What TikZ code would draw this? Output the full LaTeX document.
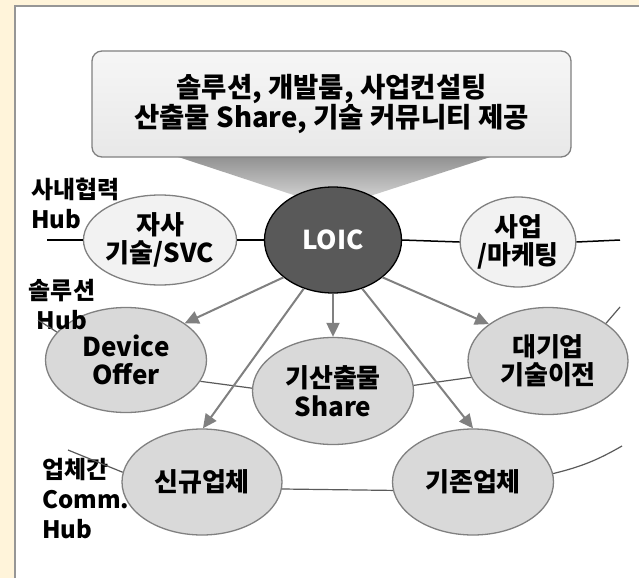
\documentclass[tikz,border=0pt]{standalone}
\usepackage{fontspec}
\setmainfont{Noto Sans CJK KR}
\usetikzlibrary{shapes.geometric,arrows.meta}
\definecolor{cream}{RGB}{255,244,218}
\definecolor{framegray}{RGB}{150,150,150}
\definecolor{edgegray}{RGB}{128,128,128}
\definecolor{linkgray}{RGB}{90,90,90}
\definecolor{corefill}{RGB}{89,89,89}
\definecolor{palefill}{RGB}{242,242,242}
\definecolor{midfill}{RGB}{217,217,217}
\definecolor{boxtop}{RGB}{246,246,246}
\definecolor{boxbot}{RGB}{232,232,232}
\definecolor{wedgetop}{RGB}{135,135,135}
\definecolor{wedgebot}{RGB}{225,225,225}
\tikzset{
 ell/.style={ellipse, inner sep=0pt, line width=1.3pt, draw=edgegray, align=center,
   font=\bfseries\fontsize{26}{28.5}\selectfont},
 pale/.style={ell, fill=palefill},
 mid/.style={ell, fill=midfill},
 core/.style={ell, fill=corefill, draw=black, text=white},
 arr/.style={draw=edgegray, line width=2pt, -{Triangle[length=14pt,width=13pt]}},
 link/.style={draw=linkgray, line width=1.2pt},
 axisline/.style={draw=black, line width=1.5pt},
 lbl/.style={font=\bfseries\fontsize{24}{30}\selectfont, inner sep=0pt},
 callout/.style={rounded corners=10pt, draw=edgegray, line width=1.3pt,
   top color=boxtop, bottom color=boxbot, align=center,
   font=\bfseries\fontsize{27.5}{30.5}\selectfont}
}
\begin{document}
\begin{tikzpicture}[x=1pt,y=-1pt]
\useasboundingbox (0,0) rectangle (639,578);
\fill[cream] (0,0) rectangle (639,578);
\fill[white] (15,6) rectangle (639,578);
\draw[framegray, line width=1.5pt] (15,578) -- (15,6) -- (639,6);
% pointer wedge
\shade[top color=wedgetop, bottom color=wedgebot] (157,150) -- (512,150) -- (333,208) -- cycle;
% callout box
\node[callout, minimum width=479pt, minimum height=106pt] (box) at (331.5,104)
  {솔루션, 개발룸, 사업컨설팅\\산출물 Share, 기술 커뮤니티 제공};
% ellipses
\node[core, minimum width=137pt, minimum height=106pt] (loic) at (333,240) {LOIC};
\node[pale, minimum width=113pt, minimum height=90pt] (jasa) at (160,240) {자사\\기술/SVC};
\node[pale, minimum width=112pt, minimum height=90pt] (biz) at (518,242) {사업\\/마케팅};
\node[mid, minimum width=161pt, minimum height=105pt] (dev) at (126,360) {Device\\Offer};
\node[mid, minimum width=161pt, minimum height=107pt] (share) at (333,391) {기산출물\\Share};
\node[mid, minimum width=160pt, minimum height=107pt] (big) at (548,361) {대기업\\기술이전};
\node[mid, minimum width=160pt, minimum height=106pt] (new) at (202,482) {신규업체};
\node[mid, minimum width=161pt, minimum height=106pt] (old) at (473,482) {기존업체};
% labels
\node[lbl, align=left, anchor=west] (lab1) at (31,203) {사내협력\\Hub};
\node[lbl, align=center] (lab2) at (62,305) {솔루션\\Hub};
\node[lbl, align=left, anchor=west] (lab3) at (42,499) {업체간\\Comm.\\Hub};
% free ends
\coordinate (hl) at (47,240);
\coordinate (hr) at (620,240);
\coordinate (dfree) at (38,320);
\coordinate (nfree) at (68,450);
\coordinate (bfree) at (620,307);
\coordinate (ofree) at (622,446);
% horizontal axis
\draw[axisline] (hl) -- (jasa.west);
\draw[axisline] (jasa.east) -- (loic.west);
\draw[axisline] (loic.east) -- (biz.west);
\draw[axisline] (biz.east) -- (hr);
% links
\draw[link] (dfree) -- (dev.158);
\draw[link] (dev.344) -- (share.178);
\draw[link] (share.4) -- (big.192);
\draw[link] (big.33) -- (bfree);
\draw[link] (nfree) -- (new.173);
\draw[link] (new.355) -- (old.186);
\draw[link] (old.6) to[bend right=8] (ofree);
% arrows
\draw[arr] (loic.217) -- (dev.32);
\draw[arr] (loic.239) -- (new.89);
\draw[arr] (loic.270) -- (share.90);
\draw[arr] (loic.301) -- (old.90);
\draw[arr] (loic.323) -- (big.148);
\end{tikzpicture}
\end{document}
